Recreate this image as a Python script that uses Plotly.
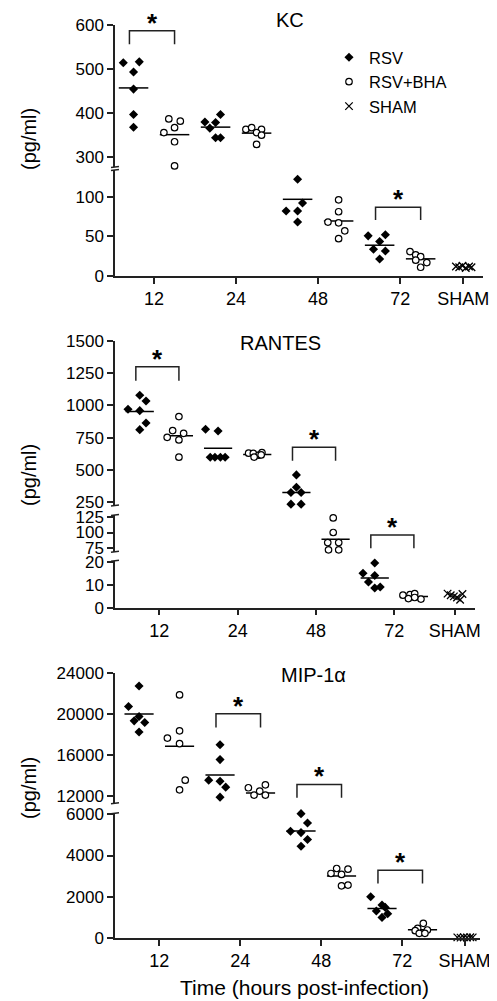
import numpy as np
import plotly.graph_objects as go

# The page body has an 8px margin, so the figure is laid out in an (8,8)-offset frame.
OFF = 8
W, H = 497 - OFF, 1001 - OFF
FONT = "Liberation Sans, Arial, sans-serif"
AX = "#222222"

# ---------------- data ----------------
X_TICK_LABELS = ["12", "24", "48", "72", "SHAM"]
SERIES_NAMES = ["RSV", "RSV+BHA", "SHAM"]
PANEL_TITLES = ["KC", "RANTES", "MIP-1α"]

# KC (pg/ml), per time point 12, 24, 48, 72 h
KC_RSV = [[514, 516, 493, 454, 396, 367],
          [379, 365, 378, 396, 343, 343],
          [134, 122, 92, 82, 82, 68],
          [50.6, 51.9, 43.4, 33.8, 31.6, 21.5]]
KC_BHA = [[355, 386, 381, 366, 334, 279],
          [362, 366, 362, 355, 349, 328],
          [96, 81, 68, 67, 57, 47],
          [30.8, 26.6, 24.4, 16.9, 20, 11]]
KC_SHAM = [12, 11, 13, 10, 12, 11]

# RANTES (pg/ml)
RANTES_RSV = [[970, 1078, 1034, 959, 864, 812],
              [815, 802, 599, 599, 599, 599],
              [462, 367, 326, 326, 236, 236],
              [19.7, 15.2, 14.2, 11.3, 8.7, 9.1]]
RANTES_BHA = [[913, 753, 805, 784, 733, 599],
              [630, 628, 615, 635, 600, 617],
              [123, 100, 84, 84, 72.5, 72.5],
              [5.5, 5.8, 6.2, 4.0, 3.8, 4.5]]
RANTES_SHAM = [6.2, 5.5, 5.0, 4.5, 3.5, 6.0]

# MIP-1alpha (pg/ml)
MIP_RSV = [[22710, 20710, 19740, 19320, 19160, 18230],
           [17000, 15550, 13550, 13450, 12870, 11900],
           [6032, 5580, 5177, 5113, 4774, 4452],
           [2000, 1597, 1484, 1306, 1177, 1000]]
MIP_BHA = [[21840, 18350, 17645, 17100, 13550, 12610],
           [12810, 13100, 12480, 12100, 12100, 11290],
           [3129, 3371, 3339, 3081, 2532, 2565],
           [710, 468, 387, 355, 226, 226]]
MIP_SHAM = [30, 20, 40, 25, 35, 30]

# significance brackets: (time index, bracket top value, leg end value)
KC_SIG = [(0, 587, 556), (3, 86.6, 70.6)]
RANTES_SIG = [(0, 1299, 1191), (2, 676, 571), (3, 96, 75)]
MIP_SIG = [(1, 20000, 18677), (2, 13129, 11839), (3, 3290, 2645)]

# y tick values per axis segment (bottom segment first)
KC_TICKS = [[0, 50, 100], [300, 400, 500, 600]]
RANTES_TICKS = [[0, 10, 20], [75, 100, 125], [250, 500, 750, 1000, 1250, 1500]]
MIP_TICKS = [[0, 2000, 4000, 6000], [12000, 16000, 20000, 24000]]

# ---------------- horizontal scatter (dot-plot jitter, category units) ----------------
J_KC_RSV = [[-0.125, 0.07, 0, 0, 0, 0], [-0.13, -0.07, 0, 0.06, 0, 0.06],
            [0.06, 0, 0.06, -0.14, 0, 0], [-0.14, 0.07, 0, -0.075, 0.07, 0]]
J_KC_BHA = [[-0.13, -0.07, 0.07, 0, 0, 0], [-0.13, -0.06, 0.06, 0, 0.06, 0],
            [0, 0, -0.13, 0, 0.075, 0], [-0.13, -0.06, 0, 0.075, -0.06, 0]]
J_R_RSV = [[-0.15, 0, 0.08, 0, 0.08, 0], [-0.16, 0, -0.1, -0.04, 0.03, 0.09],
           [0, 0, -0.07, 0.06, -0.07, 0.06], [0, -0.15, 0, -0.08, 0, 0.07]]
J_R_BHA = [[0, -0.15, -0.08, 0.06, 0, 0], [-0.11, -0.05, 0.02, 0.06, -0.04, 0.05],
           [-0.03, -0.03, -0.1, 0.04, -0.09, 0.04], [-0.14, -0.05, 0.01, -0.07, 0.09, 0.01]]
J_M_RSV = [[0, -0.13, 0, -0.06, 0.07, 0], [0, 0, -0.14, 0, 0.07, 0],
           [0, 0.08, -0.13, 0, 0.08, 0], [-0.14, 0, 0.04, -0.07, 0.07, 0]]
J_M_BHA = [[0, 0, -0.15, 0, 0.07, 0], [-0.15, 0.06, -0.01, -0.08, 0.06, -0.01],
           [-0.13, -0.06, 0.08, 0, 0, 0.08], [0.01, -0.06, 0.06, -0.09, -0.04, 0.03]]
J_SHAM = [-0.09, -0.05, -0.01, 0.03, 0.07, 0.1]

# ---------------- layout geometry (pixels of the target picture) ----------------
CAT_POS = [1, 2, 3, 4, 4.77]
GROUP_OFF = [-0.25, 0.25]
MEAN_HALF = 0.18
BR_LEFT, BR_RIGHT = -0.30, 0.25

PANELS = [
    dict(rsv=KC_RSV, bha=KC_BHA, sham=KC_SHAM, jr=J_KC_RSV, jb=J_KC_BHA,
         sig=KC_SIG, ticks=KC_TICKS, xpx=(115, 483), xr=(0.524, 5.01),
         segs=[((170, 276), (0, 133.6)), ((25, 167), (276.5, 600))],
         title_px=(290, 20)),
    dict(rsv=RANTES_RSV, bha=RANTES_BHA, sham=RANTES_SHAM, jr=J_R_RSV, jb=J_R_BHA,
         sig=RANTES_SIG, ticks=RANTES_TICKS, xpx=(115, 475), xr=(0.434, 5.03),
         segs=[((560.7, 607.7), (0, 20.7)), ((515, 551.7), (69.6, 127.7)),
               ((340.7, 505.5), (225.5, 1500))],
         title_px=(280, 343)),
    dict(rsv=MIP_RSV, bha=MIP_BHA, sham=MIP_SHAM, jr=J_M_RSV, jb=J_M_BHA,
         sig=MIP_SIG, ticks=MIP_TICKS, xpx=(115, 480), xr=(0.453, 4.96),
         segs=[((813.3, 938), (0, 6048)), ((672.7, 803.3), (11300, 24000))],
         title_px=(313, 675)),
]

MARKERS = [
    dict(symbol="diamond", size=7, color="black", line=dict(width=0)),
    dict(symbol="circle", size=6.5, color="white", line=dict(width=1.2, color="black")),
    dict(symbol="x-thin", size=7.5, color="black", line=dict(width=1.3, color="black")),
]

fig = go.Figure()
layout = dict(width=W, height=H, margin=dict(l=0, r=0, t=0, b=0, pad=0, autoexpand=False),
              paper_bgcolor="white", plot_bgcolor="rgba(0,0,0,0)",
              font=dict(family=FONT, color="black"), showlegend=True)
shapes, annotations = [], []


def px(p):
    return (p - OFF) / W


def py(p):
    return 1 - (p - OFF) / H


def pick_seg(v, segs):
    best, bd = 0, None
    for k, (_, (lo, hi)) in enumerate(segs):
        d = 0 if lo <= v <= hi else min(abs(v - lo), abs(v - hi))
        if bd is None or d < bd:
            best, bd = k, d
    return best


yn = 0
legend_done = set()
for pi, P in enumerate(PANELS):
    xname = "x" if pi == 0 else f"x{pi + 1}"
    xkey = "xaxis" if pi == 0 else f"xaxis{pi + 1}"
    ynames = []
    for k, ((top, bot), (lo, hi)) in enumerate(P["segs"]):
        yn += 1
        yname = "y" if yn == 1 else f"y{yn}"
        ykey = "yaxis" if yn == 1 else f"yaxis{yn}"
        ynames.append(yname)
        layout[ykey] = dict(domain=[py(bot), py(top)], range=[lo, hi], anchor=xname,
                            showline=True, linecolor=AX, linewidth=1.5, ticks="outside",
                            ticklen=6, tickwidth=1.5, tickcolor=AX,
                            tickvals=P["ticks"][k], tickformat="d", automargin=False,
                            tickfont=dict(size=17), showgrid=False, zeroline=False)
        # break caps
        x0, x1 = px(P["xpx"][0] - 4), px(P["xpx"][0] + 4)
        if k > 0:
            shapes.append(dict(type="line", xref="paper", yref="paper", x0=x0, x1=x1,
                               y0=py(bot + 0.5), y1=py(bot - 0.5), line=dict(color=AX, width=1.5)))
        if k < len(P["segs"]) - 1:
            shapes.append(dict(type="line", xref="paper", yref="paper", x0=x0, x1=x1,
                               y0=py(top + 0.5), y1=py(top - 0.5), line=dict(color=AX, width=1.5)))
    layout[xkey] = dict(domain=[px(P["xpx"][0]), px(P["xpx"][1])], range=list(P["xr"]),
                        anchor=ynames[0], showline=True, linecolor=AX, linewidth=1.5,
                        ticks="outside", ticklen=6, tickwidth=1.5, tickcolor=AX,
                        tickvals=CAT_POS, ticktext=X_TICK_LABELS, tickfont=dict(size=18),
                        automargin=False, showgrid=False, zeroline=False)

    # mean lines
    mean_x = {k: [] for k in range(len(P["segs"]))}
    mean_y = {k: [] for k in range(len(P["segs"]))}
    for gi, data in enumerate([P["rsv"], P["bha"]]):
        for ci, vals in enumerate(data):
            m = float(np.mean(vals))
            k = pick_seg(m, P["segs"])
            c = CAT_POS[ci] + GROUP_OFF[gi]
            mean_x[k] += [c - MEAN_HALF, c + MEAN_HALF, None]
            mean_y[k] += [m, m, None]
    for k in mean_x:
        if mean_x[k]:
            fig.add_trace(go.Scatter(x=mean_x[k], y=mean_y[k], mode="lines", xaxis=xname,
                                     yaxis=ynames[k], line=dict(color="black", width=1.5),
                                     showlegend=False, hoverinfo="skip", cliponaxis=False))

    # points
    groups = []
    for gi, (data, jit) in enumerate([(P["rsv"], P["jr"]), (P["bha"], P["jb"])]):
        xs, ys = [], []
        for ci, vals in enumerate(data):
            for v, j in zip(vals, jit[ci]):
                xs.append(CAT_POS[ci] + GROUP_OFF[gi] + j)
                ys.append(v)
        groups.append((gi, xs, ys))
    groups.append((2, [CAT_POS[4] + j for j in J_SHAM], list(P["sham"])))
    for gi, xs, ys in groups:
        per = {}
        for x, v in zip(xs, ys):
            k = pick_seg(v, P["segs"])
            per.setdefault(k, ([], []))
            per[k][0].append(x)
            per[k][1].append(v)
        for k in sorted(per):
            show = gi not in legend_done
            legend_done.add(gi)
            fig.add_trace(go.Scatter(x=per[k][0], y=per[k][1], mode="markers", xaxis=xname,
                                     yaxis=ynames[k], marker=MARKERS[gi], name=SERIES_NAMES[gi],
                                     legendgroup=SERIES_NAMES[gi], showlegend=show,
                                     cliponaxis=False))

    # significance brackets and stars
    for ci, top, leg in P["sig"]:
        k = pick_seg(top, P["segs"])
        xl, xr = CAT_POS[ci] + BR_LEFT, CAT_POS[ci] + BR_RIGHT
        shapes.append(dict(type="path", xref=xname, yref=ynames[k],
                           path=f"M {xl} {leg} L {xl} {top} L {xr} {top} L {xr} {leg}",
                           line=dict(color=AX, width=1.5)))
        annotations.append(dict(x=(xl + xr) / 2, y=top, xref=xname, yref=ynames[k],
                                text="<b>*</b>", showarrow=False, yanchor="middle",
                                yshift=8, font=dict(size=26)))

    annotations.append(dict(x=px(P["title_px"][0]), y=py(P["title_px"][1]), xref="paper",
                            yref="paper", text=PANEL_TITLES[pi], showarrow=False,
                            xanchor="center", yanchor="middle", font=dict(size=20)))

# y labels
for yc in [139, 475, 788]:
    annotations.append(dict(x=px(29), y=py(yc), xref="paper", yref="paper", text="(pg/ml)",
                            textangle=-90, showarrow=False, xanchor="center",
                            yanchor="middle", font=dict(size=20)))
annotations.append(dict(x=px(304), y=py(987), xref="paper", yref="paper",
                        text="Time (hours post-infection)", showarrow=False,
                        xanchor="center", yanchor="middle", font=dict(size=21)))

layout["shapes"] = shapes
layout["annotations"] = annotations
layout["legend"] = dict(x=px(329), y=py(40), xanchor="left", yanchor="top",
                        font=dict(size=16.5), bgcolor="rgba(0,0,0,0)", tracegroupgap=0,
                        itemwidth=30)
fig.update_layout(**layout)
fig.write_html("out.html")
